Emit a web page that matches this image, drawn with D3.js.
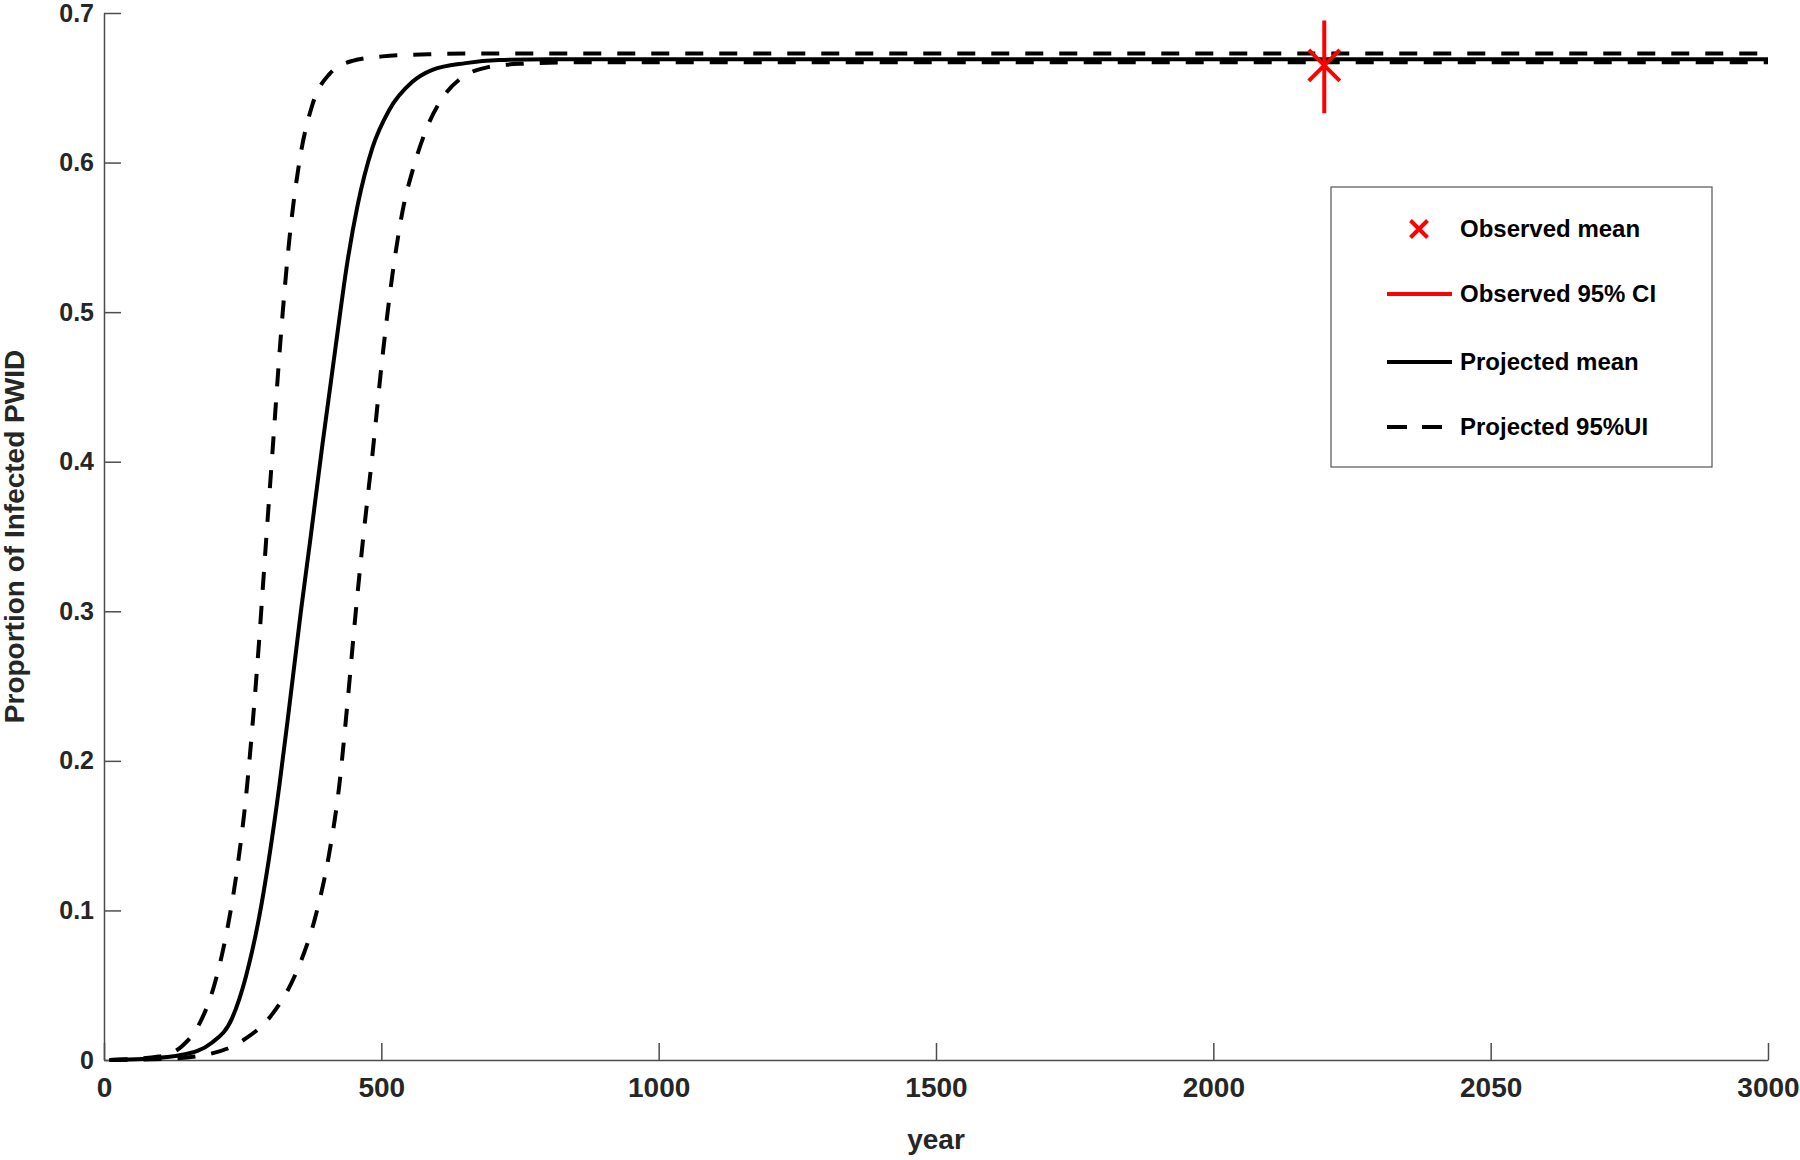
<!DOCTYPE html>
<html>
<head>
<meta charset="utf-8">
<script src="https://cdn.jsdelivr.net/npm/d3@7"></script>
<style>
  html, body { margin: 0; padding: 0; background: #fff; }
  svg { display: block; font-family: "Liberation Sans", Arial, Helvetica, sans-serif; font-weight: bold; }
</style>
</head>
<body>
<svg id="chart" width="1800" height="1160"></svg>
<script>
// ---- data ----
const xTickValues = [0, 500, 1000, 1500, 2000, 2500, 3000];
const xTickLabels = ["0", "500", "1000", "1500", "2000", "2050", "3000"];
const yTickValues = [0, 0.1, 0.2, 0.3, 0.4, 0.5, 0.6, 0.7];
const yTickLabels = ["0", "0.1", "0.2", "0.3", "0.4", "0.5", "0.6", "0.7"];

const meanX = [10, 69, 141, 195, 231, 256, 280, 298, 316, 334, 355, 372, 394, 418, 439, 457, 484, 514, 556, 592, 652, 712, 800, 3000];
const meanY = [0, 0.0007, 0.0035, 0.0117, 0.028, 0.056, 0.096, 0.136, 0.183, 0.236, 0.300, 0.348, 0.412, 0.478, 0.534, 0.571, 0.610, 0.635, 0.654, 0.662, 0.6665, 0.6685, 0.669, 0.669];

const upperX = [10, 99, 141, 171, 198, 222, 241, 256, 268, 280, 289, 304, 319, 334, 352, 376, 406, 448, 502, 592, 700, 3000];
const upperY = [0, 0.0023, 0.0094, 0.0235, 0.049, 0.087, 0.130, 0.176, 0.225, 0.282, 0.330, 0.408, 0.485, 0.548, 0.600, 0.639, 0.659, 0.668, 0.671, 0.6725, 0.673, 0.673];

const lowerX = [10, 111, 184, 250, 304, 346, 382, 406, 424, 439, 454, 467, 484, 502, 520, 538, 559, 583, 610, 646, 689, 749, 850, 3000];
const lowerY = [0, 0.0007, 0.0035, 0.013, 0.031, 0.058, 0.097, 0.138, 0.183, 0.239, 0.300, 0.348, 0.405, 0.470, 0.525, 0.567, 0.598, 0.624, 0.643, 0.657, 0.6635, 0.666, 0.667, 0.667];

const observedX = [2200];
const observedMean = [0.665];
const observedLow = [0.633];
const observedHigh = [0.695];

const legendLabels = ["Observed mean", "Observed 95% CI", "Projected mean", "Projected 95%UI"];

// ---- layout ----
const svg = d3.select("#chart");
const plotLeft = 104, plotRight = 1768, plotTop = 13, plotBottom = 1060;
const x = d3.scaleLinear().domain([0, 3000]).range([plotLeft, plotRight]);
const y = d3.scaleLinear().domain([0, 0.7]).range([plotBottom, plotTop]);

const axisColor = "#4d4d4d";
const textColor = "#262626";

// x axis
const gx = svg.append("g").attr("transform", `translate(0,${plotBottom})`)
  .call(d3.axisBottom(x).tickValues(xTickValues)
    .tickFormat((d, i) => xTickLabels[i]).tickSizeInner(-17).tickSizeOuter(0).tickPadding(17));
gx.select(".domain").attr("stroke", axisColor).attr("stroke-width", 1.5);
gx.selectAll(".tick line").attr("stroke", axisColor).attr("stroke-width", 1.5);
gx.selectAll(".tick text").attr("fill", textColor).style("font-size", "28px").style("font-weight", "bold")
  .style("font-family", "'Liberation Sans', Arial, sans-serif");

// y axis
const gy = svg.append("g").attr("transform", `translate(${plotLeft},0)`)
  .call(d3.axisLeft(y).tickValues(yTickValues)
    .tickFormat((d, i) => yTickLabels[i]).tickSizeInner(-17).tickSizeOuter(0).tickPadding(10));
gy.select(".domain").attr("stroke", axisColor).attr("stroke-width", 1.5);
gy.selectAll(".tick line").attr("stroke", axisColor).attr("stroke-width", 1.5);
gy.selectAll(".tick text").attr("fill", textColor).style("font-size", "25px").style("font-weight", "bold")
  .style("font-family", "'Liberation Sans', Arial, sans-serif");

// axis titles
svg.append("text").attr("x", (plotLeft + plotRight) / 2).attr("y", 1149)
  .attr("text-anchor", "middle").attr("fill", textColor).style("font-size", "28px")
  .text("year");
svg.append("text").attr("transform", `translate(24,${(plotTop + plotBottom) / 2}) rotate(-90)`)
  .attr("text-anchor", "middle").attr("fill", textColor).style("font-size", "28px")
  .text("Proportion of Infected PWID");

// lines
const line = d3.line().x(d => x(d[0])).y(d => y(d[1])).curve(d3.curveMonotoneX);
const series = [
  { xs: upperX, ys: upperY, dash: "18,16" },
  { xs: lowerX, ys: lowerY, dash: "18,16" },
  { xs: meanX, ys: meanY, dash: null }
];
series.forEach(s => {
  const pts = s.xs.map((v, i) => [v, s.ys[i]]);
  svg.append("path").datum(pts).attr("d", line)
    .attr("fill", "none").attr("stroke", "#000").attr("stroke-width", 4)
    .attr("stroke-dasharray", s.dash);
});

// observed CI and mean marker
observedX.forEach((ox, i) => {
  svg.append("line").attr("x1", x(ox)).attr("x2", x(ox))
    .attr("y1", y(observedLow[i])).attr("y2", y(observedHigh[i]))
    .attr("stroke", "#ff0000").attr("stroke-width", 4);
  const cx = x(ox), cy = y(observedMean[i]), r = 15.5;
  svg.append("path").attr("d", `M${cx - r},${cy - r}L${cx + r},${cy + r}M${cx - r},${cy + r}L${cx + r},${cy - r}`)
    .attr("stroke", "#ff0000").attr("stroke-width", 4).attr("fill", "none");
});

// legend
const lg = svg.append("g");
lg.append("rect").attr("x", 1331).attr("y", 187).attr("width", 381).attr("height", 280)
  .attr("fill", "#fff").attr("stroke", "#555").attr("stroke-width", 1.2);
const rowY = [229, 294, 362, 427];
legendLabels.forEach((t, i) => {
  lg.append("text").attr("x", 1460).attr("y", rowY[i]).attr("dy", "0.35em")
    .attr("fill", "#000").style("font-size", "24px").text(t);
});
{
  const cx = 1419, cy = rowY[0], r = 8.5;
  lg.append("path").attr("d", `M${cx - r},${cy - r}L${cx + r},${cy + r}M${cx - r},${cy + r}L${cx + r},${cy - r}`)
    .attr("stroke", "#ff0000").attr("stroke-width", 4).attr("fill", "none");
}
lg.append("line").attr("x1", 1387).attr("x2", 1452).attr("y1", rowY[1]).attr("y2", rowY[1])
  .attr("stroke", "#ff0000").attr("stroke-width", 4);
lg.append("line").attr("x1", 1387).attr("x2", 1452).attr("y1", rowY[2]).attr("y2", rowY[2])
  .attr("stroke", "#000").attr("stroke-width", 4);
lg.append("line").attr("x1", 1387).attr("x2", 1452).attr("y1", rowY[3]).attr("y2", rowY[3])
  .attr("stroke", "#000").attr("stroke-width", 4).attr("stroke-dasharray", "20,15");
</script>
</body>
</html>
